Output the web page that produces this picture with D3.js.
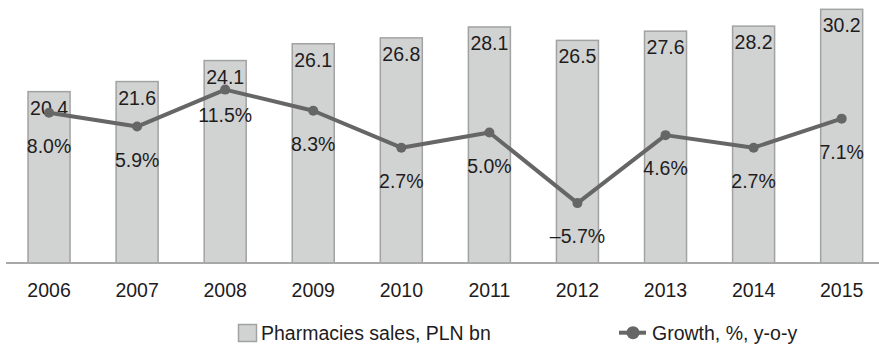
<!DOCTYPE html>
<html>
<head>
<meta charset="utf-8">
<script src="https://cdn.jsdelivr.net/npm/d3@7/dist/d3.min.js"></script>
<style>
  html, body { margin: 0; padding: 0; background: #fff; }
  svg { display: block; }
  text { font-family: "Liberation Sans", Arial, Helvetica, sans-serif; fill: #1e1c1d; }
</style>
</head>
<body>
<svg id="chart" width="879" height="346"></svg>
<script>
const years = ["2006","2007","2008","2009","2010","2011","2012","2013","2014","2015"];
const sales = [20.4, 21.6, 24.1, 26.1, 26.8, 28.1, 26.5, 27.6, 28.2, 30.2];
const growth = [8.0, 5.9, 11.5, 8.3, 2.7, 5.0, -5.7, 4.6, 2.7, 7.1];
const salesLabels = ["20.4","21.6","24.1","26.1","26.8","28.1","26.5","27.6","28.2","30.2"];
const growthLabels = ["8.0%","5.9%","11.5%","8.3%","2.7%","5.0%","\u20135.7%","4.6%","2.7%","7.1%"];
const legendNames = ["Pharmacies sales, PLN bn", "Growth, %, y-o-y"];

const svg = d3.select("#chart");
const fs = 19.5;
const baseY = 263;

const x = d3.scaleBand().domain(years).range([5, 885.7]).paddingInner(0.523).paddingOuter(0.2615);
const yBar = d3.scaleLinear().domain([0, 31.31]).range([baseY, 0]);
const yLine = d3.scaleLinear().domain([-15, 25]).range([264.5, 0.5]);

// bars
svg.append("g").selectAll("rect").data(years).join("rect")
  .attr("x", d => x(d))
  .attr("y", (d, i) => yBar(sales[i]))
  .attr("width", x.bandwidth())
  .attr("height", (d, i) => baseY - yBar(sales[i]))
  .attr("fill", "#d1d2d2")
  .attr("stroke", "#a2a2a2")
  .attr("stroke-width", 1.5);

// axis
const axis = d3.axisBottom(x).tickSize(0).tickPadding(20);
const ag = svg.append("g").attr("transform", `translate(0,${baseY})`).call(axis);
ag.select(".domain").remove();
ag.selectAll("text").style("font-size", fs + "px").attr("fill", "#1e1c1d").attr("dy", "0.71em").attr("y", 20);
svg.append("line").attr("x1", 6).attr("x2", 879).attr("y1", baseY).attr("y2", baseY)
  .attr("stroke", "#a8a8a8").attr("stroke-width", 2);

// bar labels
svg.append("g").selectAll("text").data(years).join("text")
  .attr("x", d => x(d) + x.bandwidth() / 2)
  .attr("y", (d, i) => yBar(sales[i]) + 23)
  .attr("text-anchor", "middle")
  .style("font-size", fs + "px")
  .text((d, i) => salesLabels[i]);

// line
const cx = d => x(d) + x.bandwidth() / 2;
const line = d3.line().x((d, i) => cx(years[i])).y(d => yLine(d));
svg.append("path").datum(growth).attr("d", line)
  .attr("fill", "none").attr("stroke", "#666666").attr("stroke-width", 4).attr("stroke-linejoin", "round");
svg.append("g").selectAll("circle").data(growth).join("circle")
  .attr("cx", (d, i) => cx(years[i])).attr("cy", d => yLine(d)).attr("r", 5)
  .attr("fill", "#666666");

// growth labels
svg.append("g").selectAll("text").data(growth).join("text")
  .attr("x", (d, i) => cx(years[i]))
  .attr("y", (d, i) => yLine(d) + (i === 2 ? 32 : 40))
  .attr("text-anchor", "middle")
  .style("font-size", fs + "px")
  .text((d, i) => growthLabels[i]);

// legend
const lg = svg.append("g");
lg.append("rect").attr("x", 238.5).attr("y", 324.5).attr("width", 18).attr("height", 17)
  .attr("fill", "#d1d2d2").attr("stroke", "#a2a2a2").attr("stroke-width", 1.5);
lg.append("text").attr("x", 261).attr("y", 339.5).style("font-size", fs + "px").text(legendNames[0]);
lg.append("line").attr("x1", 619).attr("x2", 646).attr("y1", 332.7).attr("y2", 332.7)
  .attr("stroke", "#666666").attr("stroke-width", 4);
lg.append("circle").attr("cx", 633).attr("cy", 332.7).attr("r", 6.5).attr("fill", "#666666");
lg.append("text").attr("x", 652).attr("y", 339.5).style("font-size", fs + "px").text(legendNames[1]);
</script>
</body>
</html>
